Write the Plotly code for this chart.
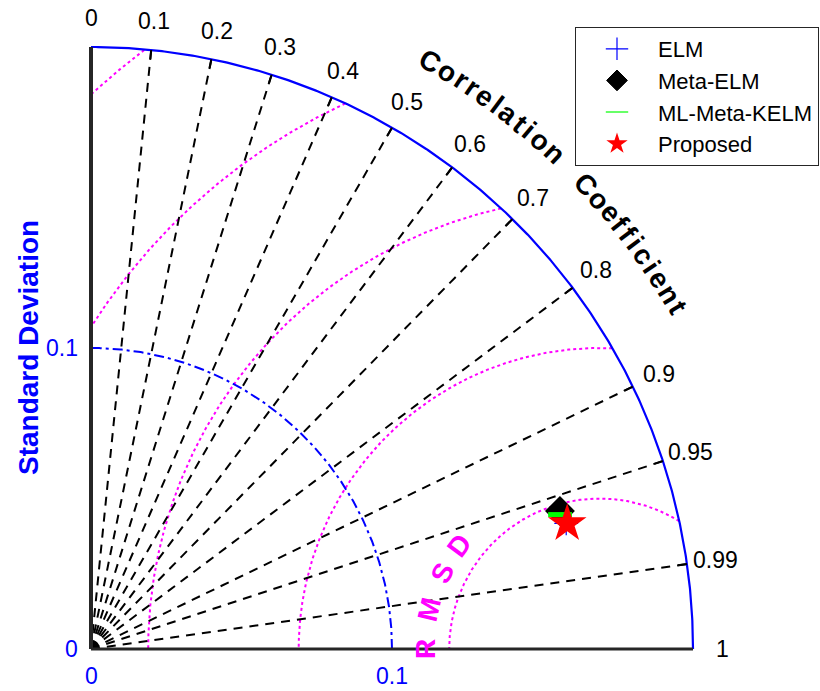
import numpy as np
import plotly.graph_objects as go

# ---------------- data ----------------
series_names = ["ELM", "Meta-ELM", "ML-Meta-KELM", "Proposed"]
series_std = [0.1633, 0.1624, 0.1621, 0.1636]
series_corr = [0.9668, 0.9593, 0.9613, 0.9670]
ref_std = 0.169
std_max = 0.2
std_ticks = [0.0, 0.1]
std_tick_labels = ["0", "0.1"]
corr_ticks = [0, 0.1, 0.2, 0.3, 0.4, 0.5, 0.6, 0.7, 0.8, 0.9, 0.95, 0.99, 1]
corr_tick_labels = ["0", "0.1", "0.2", "0.3", "0.4", "0.5", "0.6", "0.7",
                    "0.8", "0.9", "0.95", "0.99", "1"]
rmsd_levels = [0.05, 0.10, 0.15, 0.20, 0.25]
corr_title = "Correlation Coefficient"
rmsd_title = "RMSD"
std_title = "Standard Deviation"

# ---------------- styles ----------------
FONT = "Liberation Sans"
BLUE = "#0000FF"
MAG = "#FF00FF"
AXC = "#262626"
PX = 3010.0  # pixels per data unit
FS = 23

fig = go.Figure()


def nanlist(a):
    return [None if not np.isfinite(v) else float(v) for v in a]


# RMSD circles (dotted magenta), clipped to the quarter disc
th = np.linspace(0, np.pi, 1441)
for lev in rmsd_levels:
    x = ref_std + lev * np.cos(th)
    y = lev * np.sin(th)
    m = (np.hypot(x, y) <= std_max) & (x >= 0)
    x = np.where(m, x, np.nan)
    y = np.where(m, y, np.nan)
    fig.add_trace(go.Scatter(x=nanlist(x), y=nanlist(y), mode="lines",
                             line=dict(color=MAG, width=2, dash="3px,3px"),
                             showlegend=False, hoverinfo="skip"))

# radial correlation lines (dashed black)
for c in corr_ticks[1:-1]:
    a = np.arccos(c)
    fig.add_trace(go.Scatter(x=[0, std_max * np.cos(a)], y=[0, std_max * np.sin(a)],
                             mode="lines", line=dict(color="black", width=2, dash="9px,7px"),
                             showlegend=False, hoverinfo="skip"))

# std arcs
ang = np.linspace(0, np.pi / 2, 400)
fig.add_trace(go.Scatter(x=std_ticks[1] * np.cos(ang), y=std_ticks[1] * np.sin(ang), mode="lines",
                         line=dict(color=BLUE, width=2, dash="10px,4px,3px,4px"),
                         showlegend=False, hoverinfo="skip"))
fig.add_trace(go.Scatter(x=std_max * np.cos(ang), y=std_max * np.sin(ang), mode="lines",
                         line=dict(color=BLUE, width=2.2),
                         showlegend=False, hoverinfo="skip"))

# small ticks on outer arc
for c in corr_ticks:
    a = np.arccos(c)
    fig.add_trace(go.Scatter(x=[0.197 * np.cos(a), std_max * np.cos(a)],
                             y=[0.197 * np.sin(a), std_max * np.sin(a)],
                             mode="lines", line=dict(color="black", width=2),
                             showlegend=False, hoverinfo="skip"))

# axes lines
fig.add_trace(go.Scatter(x=[0, 0], y=[0, std_max], mode="lines",
                         line=dict(color=AXC, width=4), showlegend=False, hoverinfo="skip"))
fig.add_trace(go.Scatter(x=[0, std_max], y=[0, 0], mode="lines",
                         line=dict(color=AXC, width=3), showlegend=False, hoverinfo="skip"))

# data points
styles = [
    dict(symbol="cross-thin", size=17, color=BLUE, line=dict(color=BLUE, width=1.2)),
    dict(symbol="diamond", size=23, color="black", line=dict(color="black", width=0)),
    dict(symbol="line-ew", size=17, color="#00FF00", line=dict(color="#00FF00", width=5)),
    dict(symbol="star", size=29, color="red", line=dict(color="red", width=0)),
]
legend_styles = [
    dict(symbol="cross-thin", size=16, color=BLUE, line=dict(color=BLUE, width=1.2)),
    dict(symbol="diamond", size=16, color="black", line=dict(color="black", width=1)),
    dict(symbol="line-ew", size=16, color="#00FF00", line=dict(color="#00FF00", width=1.2)),
    dict(symbol="star", size=16, color="red", line=dict(color="red", width=0)),
]
for name, s, c, st in zip(series_names, series_std, series_corr, styles):
    a = np.arccos(c)
    fig.add_trace(go.Scatter(x=[s * np.cos(a)], y=[s * np.sin(a)], mode="markers",
                             name=name, marker=st, showlegend=False, legendgroup=name))
for name, st in zip(series_names, legend_styles):
    fig.add_trace(go.Scatter(x=[None], y=[None], mode="markers", name=name, marker=st,
                             legendgroup=name, showlegend=True))

ann = []
# correlation tick labels
for c, lab in zip(corr_ticks, corr_tick_labels):
    a = np.arccos(c)
    ann.append(dict(x=0.2097 * np.cos(a), y=0.2097 * np.sin(a), text=lab, showarrow=False,
                    xanchor="center", yanchor="middle",
                    font=dict(family=FONT, size=FS, color="black")))

# std tick labels
for v, lab in zip(std_ticks, std_tick_labels):
    ann.append(dict(x=-11 / PX, y=v, text=lab, showarrow=False, xanchor="right",
                    yanchor="middle", font=dict(family=FONT, size=FS, color=BLUE)))
    ann.append(dict(x=v, y=-27 / PX, text=lab, showarrow=False, xanchor="center",
                    yanchor="middle", font=dict(family=FONT, size=FS, color=BLUE)))

# std title
ann.append(dict(x=-63 / PX, y=0.1, text="<b>%s</b>" % std_title, showarrow=False,
                textangle=-90, xanchor="center", yanchor="middle",
                font=dict(family=FONT, size=28, color=BLUE)))

# correlation title along arc
wbold = {"C": .722, "o": .611, "r": .389, "e": .556, "l": .278, "a": .556, "t": .333,
         "i": .278, "n": .611, " ": .9, "f": .333, "c": .556}
track = 0.25
cent = []
pos = 0.0
for ch in corr_title:
    w = wbold[ch]
    cent.append(pos + w / 2)
    pos += w + track
cent = np.array(cent)
a0, a1 = 60.0, 30.2
angs = a0 + (cent - cent[0]) / (cent[-1] - cent[0]) * (a1 - a0)
for ch, ad in zip(corr_title, angs):
    if ch == " ":
        continue
    ar = np.radians(ad)
    ann.append(dict(x=0.2255 * np.cos(ar), y=0.2255 * np.sin(ar), text="<b>%s</b>" % ch,
                    showarrow=False, textangle=90 - ad, xanchor="center", yanchor="middle",
                    font=dict(family=FONT, size=28, color="black")))

# RMSD label along arc around reference point
for ch, ad in zip(rmsd_title, [180.0, 167.0, 154.0, 143.5]):
    ar = np.radians(ad)
    ann.append(dict(x=ref_std + 0.058 * np.cos(ar), y=0.058 * np.sin(ar), text="<b>%s</b>" % ch,
                    showarrow=False, textangle=90 - ad, xanchor="center", yanchor="middle",
                    font=dict(family=FONT, size=28, color=MAG)))

fig.update_layout(
    width=820, height=691,
    margin=dict(l=0, r=0, t=0, b=0, pad=0, autoexpand=False),
    paper_bgcolor="white", plot_bgcolor="white",
    xaxis=dict(range=[-91 / PX, 729 / PX], visible=False, domain=[0, 1], fixedrange=True),
    yaxis=dict(range=[-42 / PX, 649 / PX], visible=False, domain=[0, 1], fixedrange=True),
    annotations=ann,
    showlegend=True,
    legend=dict(x=575 / 820, y=1 - 27 / 691, xanchor="left", yanchor="top",
                bgcolor="white", bordercolor=AXC, borderwidth=1,
                font=dict(family=FONT, size=22, color="black"),
                itemwidth=72, tracegroupgap=0),
)

fig.write_html("out.html", config={"displayModeBar": False},
               post_script="document.body.style.margin='0px';document.body.style.overflow='hidden';")
